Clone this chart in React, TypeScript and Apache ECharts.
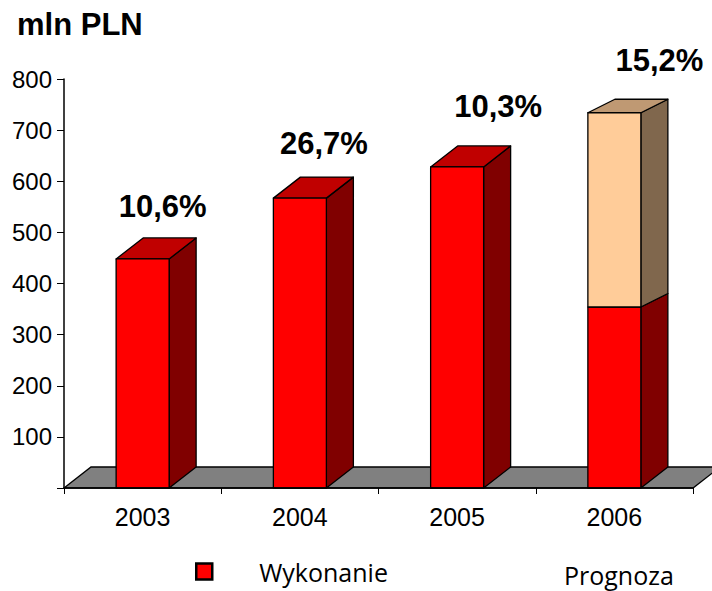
import React, { useEffect, useRef } from "react";
import * as echarts from "echarts";

const years = ["2003", "2004", "2005", "2006"];
const wykonanie = [448, 567, 628, 354];
const prognoza = [0, 0, 0, 380];
const growthLabels = ["10,6%", "26,7%", "10,3%", "15,2%"];
const yTicks = [0, 100, 200, 300, 400, 500, 600, 700, 800];

const SANS = '"Liberation Sans", Arial, sans-serif';
const DEPTH_X = 27;
const DEPTH_Y_FULL = 21;
const DEPTH_Y_FORECAST = 13.5;
const BAR_WIDTH = 53;
const LABEL_SHIFT: [number, number][] = [
  [20, -52],
  [24, -55],
  [41, -60],
  [45, -52],
];

function box(
  x0: number,
  y0: number,
  y1: number,
  dyTop: number,
  dyBottom: number,
  front: string,
  side: string,
  top: string | null
) {
  const x1 = x0 + BAR_WIDTH;
  const stroke = { stroke: "#000", lineWidth: 1.3, lineJoin: "round" };
  const children: any[] = [
    {
      type: "polygon",
      shape: {
        points: [
          [x1, y0],
          [x1 + DEPTH_X, y0 - dyBottom],
          [x1 + DEPTH_X, y1 - dyTop],
          [x1, y1],
        ],
      },
      style: { fill: side, ...stroke },
    },
  ];
  if (top) {
    children.push({
      type: "polygon",
      shape: {
        points: [
          [x0, y1],
          [x0 + DEPTH_X, y1 - dyTop],
          [x1 + DEPTH_X, y1 - dyTop],
          [x1, y1],
        ],
      },
      style: { fill: top, ...stroke },
    });
  }
  children.push({
    type: "rect",
    shape: { x: x0, y: y1, width: BAR_WIDTH, height: y0 - y1 },
    style: { fill: front, ...stroke },
  });
  return { type: "group", children };
}

export default function App() {
  const ref = useRef<HTMLDivElement>(null);
  useEffect(() => {
    const chart = echarts.init(ref.current!, null, { renderer: "svg" });
    chart.setOption({
      animation: false,
      backgroundColor: "#fff",
      textStyle: { fontFamily: SANS },
      grid: { left: 64, right: 19, top: 79, bottom: 103 },
      title: {
        text: "mln PLN",
        left: 12,
        top: 4,
        textStyle: { fontFamily: SANS, fontSize: 31, fontWeight: "bold", color: "#000" },
      },
      legend: [
        {
          data: [{ name: "Wykonanie", icon: "rect" }],
          left: 190,
          top: 554,
          itemWidth: 16,
          itemHeight: 16,
          itemStyle: { color: "#ff0000", borderColor: "#000", borderWidth: 2.5 },
          textStyle: { fontFamily: '"Open Sans"', fontSize: 25, color: "#000", padding: [0, 0, 8, 42] },
          selectedMode: false,
        },
        {
          data: [{ name: "Prognoza", icon: "none" }],
          left: 554,
          top: 557,
          itemWidth: 0,
          itemHeight: 0,
          textStyle: { fontFamily: '"Open Sans"', fontSize: 25, color: "#000" },
          selectedMode: false,
        },
      ],
      xAxis: {
        type: "category",
        data: years,
        axisLine: { lineStyle: { color: "#000", width: 1.5 } },
        axisTick: { show: true, length: 6, lineStyle: { color: "#000", width: 1 } },
        axisLabel: { fontFamily: SANS, fontSize: 25, color: "#000", margin: 16 },
        z: 10,
      },
      yAxis: {
        type: "value",
        min: yTicks[0],
        max: yTicks[yTicks.length - 1],
        interval: yTicks[1] - yTicks[0],
        splitLine: { show: false },
        axisLine: { show: true, lineStyle: { color: "#000", width: 1.5 } },
        axisTick: { show: true, length: 7, lineStyle: { color: "#000", width: 1 } },
        axisLabel: {
          fontFamily: SANS,
          fontSize: 24,
          color: "#000",
          margin: 12,
          formatter: (v: number) => (v === 0 ? "" : String(v)),
        },
        z: 10,
      },
      series: [
        {
          type: "custom",
          name: "floor",
          silent: true,
          z: 1,
          data: [[0]],
          encode: { x: 0 },
          renderItem: (params: any) => {
            const c = params.coordSys;
            const b = c.y + c.height;
            return {
              type: "polygon",
              shape: {
                points: [
                  [c.x, b],
                  [c.x + DEPTH_X, b - DEPTH_Y_FULL],
                  [c.x + c.width + DEPTH_X, b - DEPTH_Y_FULL],
                  [c.x + c.width, b],
                ],
              },
              style: { fill: "#808080", stroke: "#000", lineWidth: 1.3 },
            };
          },
          clip: false,
        },
        {
          type: "custom",
          name: "Wykonanie",
          z: 2,
          itemStyle: { color: "#ff0000" },
          data: wykonanie.map((v, i) => [i, v, prognoza[i]]),
          encode: { x: 0, y: 1 },
          clip: false,
          renderItem: (_p: any, api: any) => {
            const i = api.value(0);
            const v = api.value(1);
            const f = api.value(2);
            const [cx, y1] = api.coord([i, v]);
            const [, y0] = api.coord([i, 0]);
            return box(
              cx - BAR_WIDTH / 2,
              y0,
              y1,
              f > 0 ? DEPTH_Y_FORECAST : DEPTH_Y_FULL,
              DEPTH_Y_FULL,
              "#ff0000",
              "#800000",
              f > 0 ? null : "#c00000"
            );
          },
        },
        {
          type: "custom",
          name: "Prognoza",
          z: 3,
          itemStyle: { color: "#ffcc99" },
          data: prognoza.map((v, i) => [i, wykonanie[i] + v, wykonanie[i], v]).filter((d) => d[3] > 0),
          encode: { x: 0, y: 1 },
          clip: false,
          renderItem: (_p: any, api: any) => {
            const i = api.value(0);
            const [cx, y1] = api.coord([i, api.value(1)]);
            const [, y0] = api.coord([i, api.value(2)]);
            return box(
              cx - BAR_WIDTH / 2,
              y0,
              y1,
              DEPTH_Y_FORECAST,
              DEPTH_Y_FORECAST,
              "#ffcc99",
              "#80674d",
              "#bf9973"
            );
          },
        },
        {
          type: "custom",
          name: "growth",
          silent: true,
          z: 5,
          data: growthLabels.map((_, i) => [i, wykonanie[i] + prognoza[i]]),
          encode: { x: 0, y: 1 },
          clip: false,
          renderItem: (_p: any, api: any) => {
            const i = api.value(0);
            const [cx, y] = api.coord([i, api.value(1)]);
            return {
              type: "text",
              style: {
                text: growthLabels[i],
                x: cx + LABEL_SHIFT[i][0],
                y: y + LABEL_SHIFT[i][1],
                align: "center",
                verticalAlign: "middle",
                font: `bold 31px ${SANS}`,
                fill: "#000",
              },
            };
          },
        },
      ],
    });
    return () => chart.dispose();
  }, []);
  return (
    <div
      ref={ref}
      style={{ position: "fixed", left: 0, top: 0, width: 712, height: 591 }}
    />
  );
}
